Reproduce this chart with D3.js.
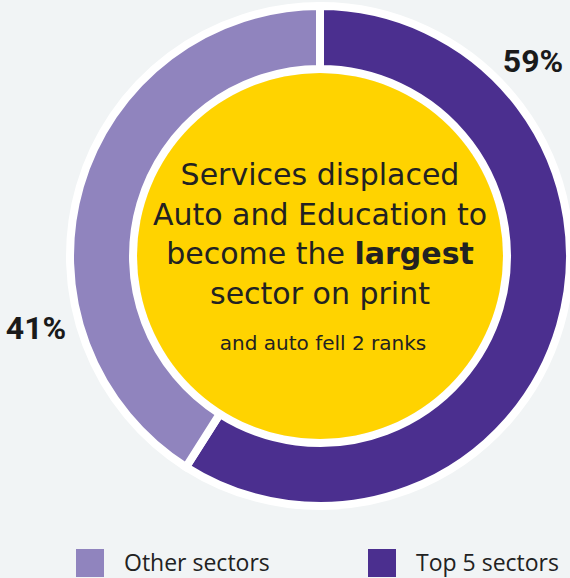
<!DOCTYPE html>
<html><head><meta charset="utf-8">
<script src="https://cdn.jsdelivr.net/npm/d3@7"></script>
<style>html,body{margin:0;padding:0;background:#F1F4F5;}svg{display:block;}</style>
</head><body>
<svg id="chart" width="570" height="578"></svg>
<script>
const categories = ["Top 5 sectors", "Other sectors"];
const values = [59, 41];
const colors = ["#4B2F8F", "#9084BE"];
const legendOrder = ["Other sectors", "Top 5 sectors"];
const centerLines = [
  [{t:"Services displaced", b:false}],
  [{t:"Auto and Education to", b:false}],
  [{t:"become the ", b:false}, {t:"largest", b:true}],
  [{t:"sector on print", b:false}]
];
const subText = "and auto fell 2 ranks";

const svg = d3.select("#chart");
const font = "'Open Sans', 'Noto Sans', sans-serif";
const centerFont = "'DejaVu Sans', sans-serif";
const cx = 320, cy = 256;
const color = d3.scaleOrdinal().domain(categories).range(colors);
const data = categories.map((c,i)=>({cat:c, value:values[i]}));
const pie = d3.pie().value(d=>d.value).sort(null);
const arc = d3.arc().innerRadius(187).outerRadius(250);

const g = svg.append("g").attr("transform", `translate(${cx},${cy})`);
g.selectAll("path").data(pie(data)).join("path")
  .attr("d", arc)
  .attr("fill", d=>color(d.data.cat))
  .attr("stroke", "#ffffff")
  .attr("stroke-width", 8)
  .attr("stroke-linejoin", "miter");

g.append("circle").attr("r", 183).attr("fill", "#FFD300");

// percentage labels
svg.append("text").attr("x", 533).attr("y", 72).attr("text-anchor","middle")
  .attr("font-family","Roboto, sans-serif").attr("font-weight",700).attr("font-size",32)
  .attr("fill","#1a1a1a").text(values[0] + "%");
svg.append("text").attr("x", 36).attr("y", 339).attr("text-anchor","middle")
  .attr("font-family","Roboto, sans-serif").attr("font-weight",700).attr("font-size",32)
  .attr("fill","#1a1a1a").text(values[1] + "%");

// center text
const baselines = [185, 225, 264, 304];
centerLines.forEach((line, i) => {
  const t = svg.append("text").attr("x", cx).attr("y", baselines[i])
    .attr("text-anchor","middle").attr("font-family", centerFont).attr("font-size", 30)
    .attr("fill","#222222");
  line.forEach(seg => t.append("tspan").attr("font-weight", seg.b ? 700 : 400).text(seg.t));
});
svg.append("text").attr("x", cx + 3).attr("y", 350).attr("text-anchor","middle")
  .attr("font-family", centerFont).attr("font-size", 20).attr("fill","#222222").text(subText);

// legend
const legendX = [76, 368];
legendOrder.forEach((c, i) => {
  svg.append("rect").attr("x", legendX[i]).attr("y", 549).attr("width", 28).attr("height", 28)
    .attr("fill", color(c));
  svg.append("text").attr("x", legendX[i] + 48).attr("y", 571)
    .attr("font-family", font).attr("font-size", 23).attr("fill","#222222").text(c);
});
</script>
</body></html>
